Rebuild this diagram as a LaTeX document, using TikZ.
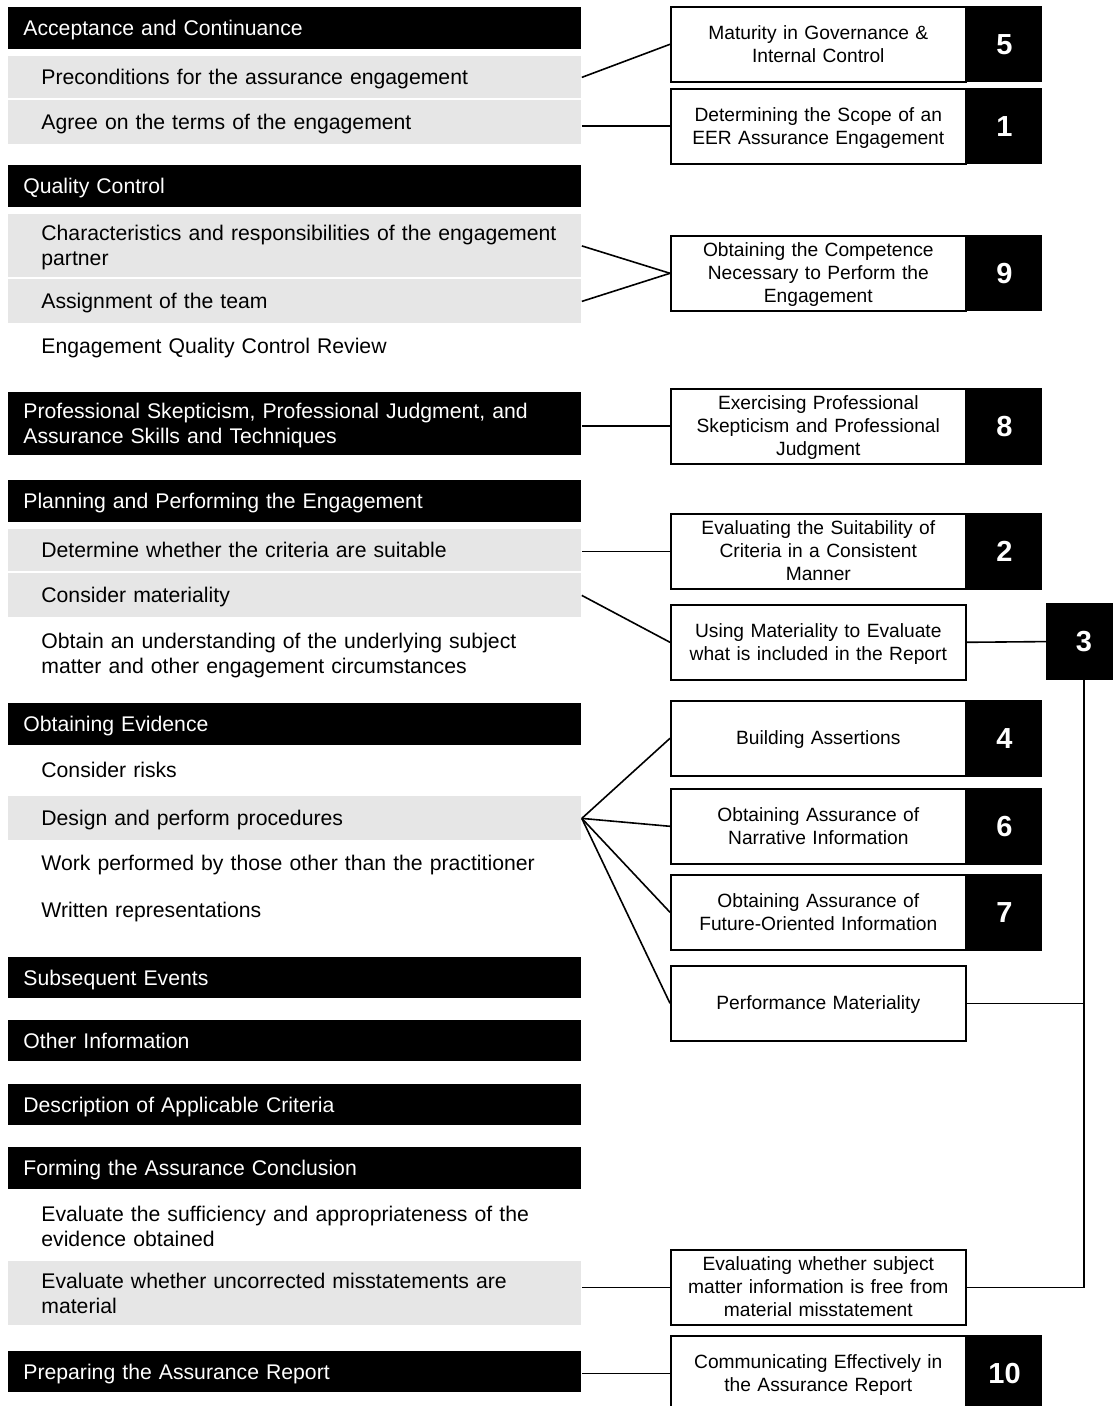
\documentclass[tikz,border=0pt]{standalone}
\usepackage{fontspec}
\setmainfont{Liberation Sans}
\usetikzlibrary{positioning}
\definecolor{itemgray}{HTML}{E6E6E6}
\newcommand{\lstrut}{\rule[-2.5pt]{0pt}{12.2pt}}
\newcommand{\rstrut}{\rule[-2.6pt]{0pt}{11.5pt}}

\begin{document}
\begin{tikzpicture}[
    x=0.5pt, y=-0.5pt,
    bar/.style={rectangle, anchor=north west, inner sep=0pt,
        text width=286.5pt, minimum width=286.5pt, align=left,
        font=\fontsize{10.6pt}{12.5pt}\selectfont,
        execute at begin node={\leftskip=#1\lstrut}, execute at end node={\lstrut}},
    header/.style={bar=7.5pt, fill=black, text=white},
    item/.style={bar=16.5pt, fill=itemgray},
    plain/.style={bar=16.5pt},
    topic/.style={rectangle, draw, line width=0.8pt, anchor=north west, inner sep=0pt,
        minimum width=147.5pt, minimum height=37.5pt, text width=140pt, align=center,
        font=\fontsize{9.6pt}{11.5pt}\selectfont,
        execute at begin node={\rstrut}, execute at end node={\rstrut}},
    num/.style={rectangle, fill=black, text=white, inner sep=0pt,
        minimum width=37.5pt, minimum height=38.2pt,
        font=\fontsize{14.5pt}{16pt}\selectfont\bfseries},
    link/.style={line width=0.8pt},
    node distance=0pt
]
\useasboundingbox (0,0) rectangle (1112,1406);

% left column
\node[header, minimum height=21pt] (h1) at (8,7) {Acceptance and Continuance};
\node[item, minimum height=21pt] (g1) at (8,56) {Preconditions for the assurance engagement};
\node[item, minimum height=22pt] (g2) at (8,100) {Agree on the terms of the engagement};
\node[header, minimum height=21pt] (h2) at (8,165) {Quality Control};
\node[item, minimum height=31.5pt] (g3) at (8,214) {Characteristics and responsibilities of the engagement\\partner};
\node[item, minimum height=22pt] (g4) at (8,279) {Assignment of the team};
\node[plain, minimum height=21pt] (p1) at (8,325) {Engagement Quality Control Review};
\node[header, minimum height=31.5pt] (h3) at (8,392) {Professional Skepticism, Professional Judgment, and\\Assurance Skills and Techniques};
\node[header, minimum height=21pt] (h4) at (8,480) {Planning and Performing the Engagement};
\node[item, minimum height=21pt] (g5) at (8,529) {Determine whether the criteria are suitable};
\node[item, minimum height=22pt] (g6) at (8,573) {Consider materiality};
\node[plain, minimum height=31.5pt] (p2) at (8,622) {Obtain an understanding of the underlying subject\\matter and other engagement circumstances};
\node[header, minimum height=21pt] (h5) at (8,703) {Obtaining Evidence};
\node[plain, minimum height=21pt] (p3) at (8,749) {Consider risks};
\node[item, minimum height=22pt] (g7) at (8,796) {Design and perform procedures};
\node[plain, minimum height=21pt] (p4) at (8,842) {Work performed by those other than the practitioner};
\node[plain, minimum height=21pt] (p5) at (8,889) {Written representations};
\node[header, minimum height=20.5pt] (h6) at (8,957) {Subsequent Events};
\node[header, minimum height=20.5pt] (h7) at (8,1020) {Other Information};
\node[header, minimum height=20.5pt] (h8) at (8,1084) {Description of Applicable Criteria};
\node[header, minimum height=21pt] (h9) at (8,1147) {Forming the Assurance Conclusion};
\node[plain, minimum height=31.5pt] (p6) at (8,1195) {Evaluate the sufficiency and appropriateness of the\\evidence obtained};
\node[item, minimum height=32pt] (g8) at (8,1261) {Evaluate whether uncorrected misstatements are\\material};
\node[header, minimum height=20.5pt] (h10) at (8,1351) {Preparing the Assurance Report};

% right column
\node[topic] (b5) at (670,6) {Maturity in Governance \&\\Internal Control};
\node[num, right=of b5] (n5) {5};
\node[topic] (b1) at (670,88) {Determining the Scope of an\\EER Assurance Engagement};
\node[num, right=of b1] (n1) {1};
\node[topic] (b9) at (670,235) {Obtaining the Competence\\Necessary to Perform the\\Engagement};
\node[num, right=of b9] (n9) {9};
\node[topic] (b8) at (670,388) {Exercising Professional\\Skepticism and Professional\\Judgment};
\node[num, right=of b8] (n8) {8};
\node[topic] (b2) at (670,513) {Evaluating the Suitability of\\Criteria in a Consistent\\Manner};
\node[num, right=of b2] (n2) {2};
\node[topic] (b3) at (670,604) {Using Materiality to Evaluate\\what is included in the Report};
\node[num, anchor=north west] (n3) at (1046,603) {3};
\node[topic] (b4) at (670,700) {Building Assertions};
\node[num, right=of b4] (n4) {4};
\node[topic] (b6) at (670,788) {Obtaining Assurance of\\Narrative Information};
\node[num, right=of b6] (n6) {6};
\node[topic] (b7) at (670,874) {Obtaining Assurance of\\Future-Oriented Information};
\node[num, right=of b7] (n7) {7};
\node[topic] (pm) at (670,965) {Performance Materiality};
\node[topic] (ew) at (670,1249) {Evaluating whether subject\\matter information is free from\\material misstatement};
\node[topic] (b10) at (670,1335) {Communicating Effectively in\\the Assurance Report};
\node[num, right=of b10] (n10) {10};

% connectors
\draw[link] (g1.east) -- (b5.west);
\draw[link] (b1.west -| g2.east) -- (b1.west);
\draw[link] (g3.east) -- (b9.west);
\draw[link] (g4.east) -- (b9.west);
\draw[link] (b8.west -| h3.east) -- (b8.west);
\draw[link] (b2.west -| g5.east) -- (b2.west);
\draw[link] (g6.east) -- (b3.west);
\foreach \t in {b4, b6, b7, pm}
    \draw[link] (g7.east) -- (\t.west);
\draw[link] (ew.west -| g8.east) -- (ew.west);
\draw[link] (b10.west -| h10.east) -- (b10.west);
\draw[link] (b3.east) -- (n3.west);
\draw[link] (n3.south) |- (ew.east);
\draw[link] (pm.east) -- (pm.east -| n3.south);

\end{tikzpicture}
\end{document}
